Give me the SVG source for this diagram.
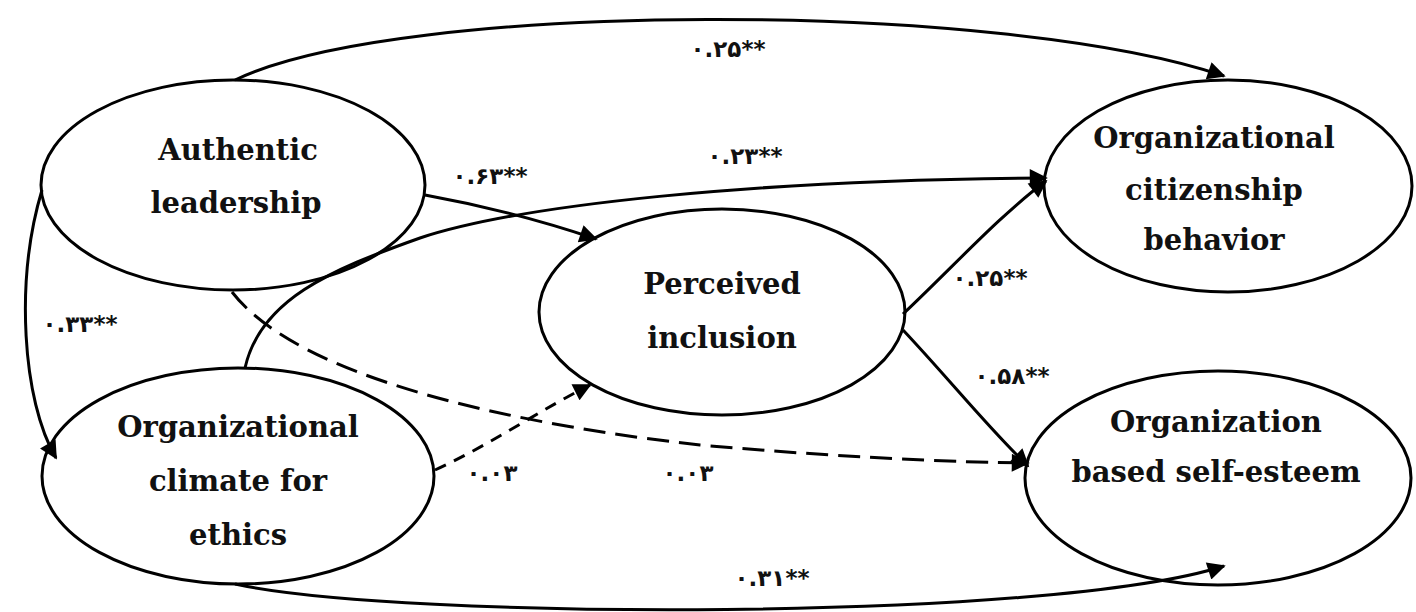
<svg xmlns="http://www.w3.org/2000/svg" width="1416" height="612" viewBox="0 0 1416 612">
<defs>
<style>
.node ellipse{fill:#fff;stroke:#000;stroke-width:3}
.node text{font-family:"DejaVu Serif","Liberation Serif",serif;font-weight:bold;font-size:29px;text-anchor:middle;fill:#111}
.edge{fill:none;stroke:#000;stroke-width:3}
.dash{stroke-dasharray:22 10}
.dot{stroke-dasharray:12 9}
.lbl{font-family:"DejaVu Sans",sans-serif;font-weight:bold;font-size:23px;fill:#111;text-anchor:middle}
</style>
<marker id="ah" viewBox="0 0 10 10" refX="9" refY="5" markerWidth="8" markerHeight="6" markerUnits="strokeWidth" orient="auto">
<path d="M0,0 L10,5 L0,10 z" fill="#000"/>
</marker>
</defs>
<rect width="1416" height="612" fill="#fff"/>
<g id="authentic" class="node">
<ellipse cx="233" cy="185" rx="192" ry="105"/>
<text x="238" y="160">Authentic</text>
<text x="236" y="213">leadership</text>
</g>
<g id="climate" class="node">
<ellipse cx="238" cy="476" rx="196" ry="108"/>
<text x="238" y="437">Organizational</text>
<text x="238" y="491">climate for</text>
<text x="238" y="545">ethics</text>
</g>
<g id="inclusion" class="node">
<ellipse cx="722" cy="312" rx="183" ry="103"/>
<text x="722" y="294">Perceived</text>
<text x="722" y="348">inclusion</text>
</g>
<g id="ocb" class="node">
<ellipse cx="1228" cy="186" rx="184" ry="106"/>
<text x="1214" y="148">Organizational</text>
<text x="1214" y="200">citizenship</text>
<text x="1214" y="250">behavior</text>
</g>
<g id="obse" class="node">
<ellipse cx="1218" cy="478" rx="193" ry="107"/>
<text x="1216" y="432">Organization</text>
<text x="1216" y="482">based self-esteem</text>
</g>
<g id="connectors">
<path class="edge" d="M235,80 C400,0 1000,0 1224,76" marker-end="url(#ah)"/>
<path class="edge" d="M425,195 C480,205 540,220 596,239" marker-end="url(#ah)"/>
<path class="edge" d="M245,368 C260,300 330,270 420,238 C520,205 750,180 1046,178" marker-end="url(#ah)"/>
<path class="edge" d="M42,190 C15,280 22,400 56,458" marker-end="url(#ah)"/>
<path class="edge dash" d="M232,292 C300,380 520,425 700,445 C850,458 950,462 1028,463" marker-end="url(#ah)"/>
<path class="edge dot" d="M435,470 C490,445 540,410 590,385" marker-end="url(#ah)"/>
<path class="edge" d="M903,314 C950,270 1000,215 1046,181" marker-end="url(#ah)"/>
<path class="edge" d="M903,330 C950,380 990,430 1028,466" marker-end="url(#ah)"/>
<path class="edge" d="M235,584 C400,620 1050,622 1224,566" marker-end="url(#ah)"/>
</g>
<g id="labels">
<text class="lbl" x="728" y="57">۰.۲۵**</text>
<text class="lbl" x="490" y="184">۰.۶۳**</text>
<text class="lbl" x="745" y="164">۰.۲۳**</text>
<text class="lbl" x="80" y="332">۰.۳۳**</text>
<text class="lbl" x="990" y="286">۰.۲۵**</text>
<text class="lbl" x="1012" y="384">۰.۵۸**</text>
<text class="lbl" x="492" y="481">۰.۰۳</text>
<text class="lbl" x="688" y="481">۰.۰۳</text>
<text class="lbl" x="772" y="586">۰.۳۱**</text>
</g>
</svg>
